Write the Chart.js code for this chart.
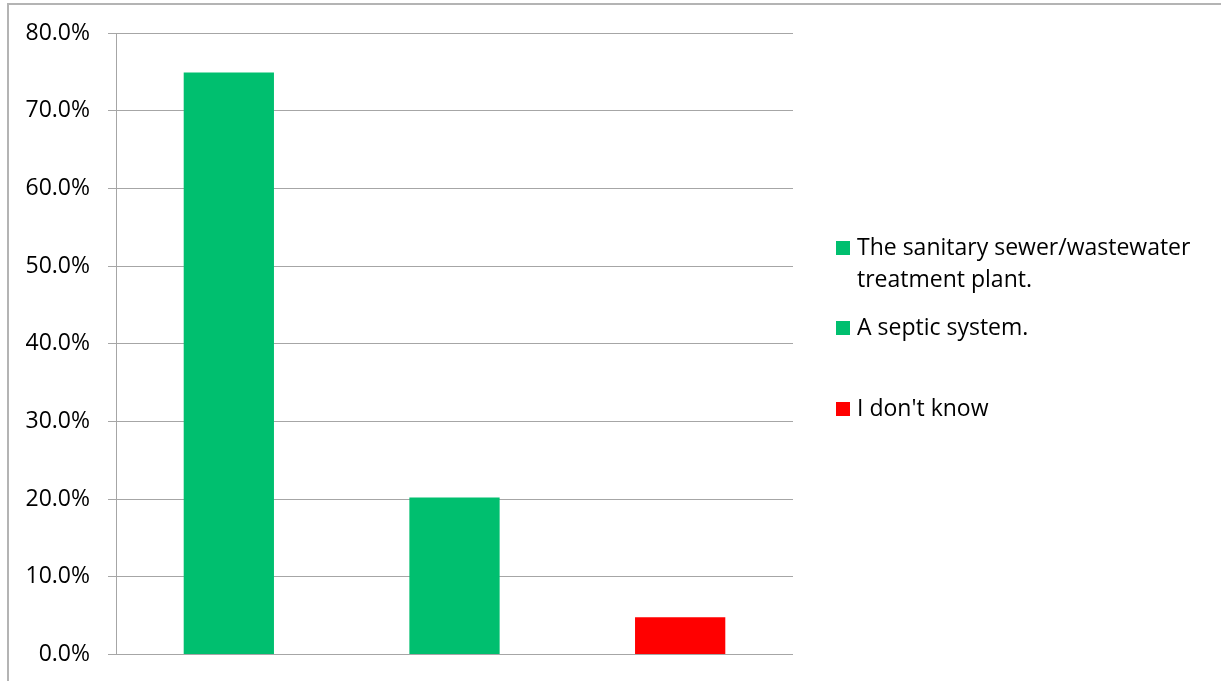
<!DOCTYPE html>
<html>
<head>
<meta charset="utf-8">
<script src="https://cdn.jsdelivr.net/npm/chart.js@4/dist/chart.umd.min.js"></script>
<style>
  html, body { margin: 0; padding: 0; background: #fff; overflow: hidden; width: 1221px; height: 681px; }
  #frame { position: absolute; left: 7px; top: 3px; width: 1400px; height: 900px; border: 2px solid #b4b4b4; box-sizing: border-box; }
  #wrap { position: absolute; left: 0; top: 0; width: 1221px; height: 681px; }
</style>
</head>
<body>
<div id="frame"></div>
<div id="wrap"><canvas id="c" width="1221" height="681"></canvas></div>
<script>
// ---- data ----
const categories = [
  "The sanitary sewer/wastewater treatment plant.",
  "A septic system.",
  "I don't know"
];
const values = [74.9, 20.2, 4.8];
const barColors = ["#00BF6F", "#00BF6F", "#FF0000"];
const yTicks = [0, 10, 20, 30, 40, 50, 60, 70, 80];

// ---- layout / style ----
const FONT = '"Open Sans", sans-serif';
const FONT_SIZE = 23;
const GRID = "#a6a6a6";
const legendLayout = { boxX: 836, box: 14, textX: 857, baselines: [255, 335, 416], lineGap: 32, maxWidth: 360 };

function wrapText(ctx, text, maxWidth) {
  const words = text.split(" ");
  const lines = [];
  let line = "";
  for (const w of words) {
    const test = line ? line + " " + w : w;
    if (ctx.measureText(test).width > maxWidth && line) { lines.push(line); line = w; }
    else line = test;
  }
  if (line) lines.push(line);
  return lines;
}

const sideLegend = {
  id: "sideLegend",
  afterDraw(chart) {
    const ctx = chart.ctx;
    const ds = chart.data.datasets[0];
    ctx.save();
    ctx.font = FONT_SIZE + "px " + FONT;
    ctx.textBaseline = "alphabetic";
    ctx.textAlign = "left";
    chart.data.labels.forEach((lab, i) => {
      const base = legendLayout.baselines[i];
      ctx.fillStyle = ds.backgroundColor[i];
      ctx.fillRect(legendLayout.boxX, base - legendLayout.box, legendLayout.box, legendLayout.box);
      ctx.fillStyle = "#000";
      wrapText(ctx, lab, legendLayout.maxWidth).forEach((ln, k) => {
        ctx.fillText(ln, legendLayout.textX, base + k * legendLayout.lineGap);
      });
    });
    ctx.restore();
  }
};

new Chart(document.getElementById("c"), {
  type: "bar",
  data: {
    labels: categories,
    datasets: [{
      data: values,
      backgroundColor: barColors,
      borderWidth: 0,
      barPercentage: 0.4,
      categoryPercentage: 1.0
    }]
  },
  options: {
    responsive: false,
    animation: false,
    devicePixelRatio: 1,
    layout: { padding: { left: 0, top: 33, right: 428, bottom: 26.5 } },
    plugins: { legend: { display: false }, tooltip: { enabled: false } },
    scales: {
      x: { display: false },
      y: {
        min: yTicks[0],
        max: yTicks[yTicks.length - 1],
        afterBuildTicks(scale) { scale.ticks = yTicks.map(v => ({ value: v })); },
        afterFit(scale) { scale.width = 116; scale.paddingTop = 0; scale.paddingBottom = 0; },
        border: { display: true, color: GRID, width: 1 },
        grid: { color: GRID, lineWidth: 1, tickLength: 8, drawTicks: true },
        ticks: {
          padding: 18,
          color: "#000",
          font: { family: FONT, size: FONT_SIZE },
          callback: v => Number(v).toFixed(1) + "%"
        }
      }
    }
  },
  plugins: [sideLegend]
});
</script>
</body>
</html>
